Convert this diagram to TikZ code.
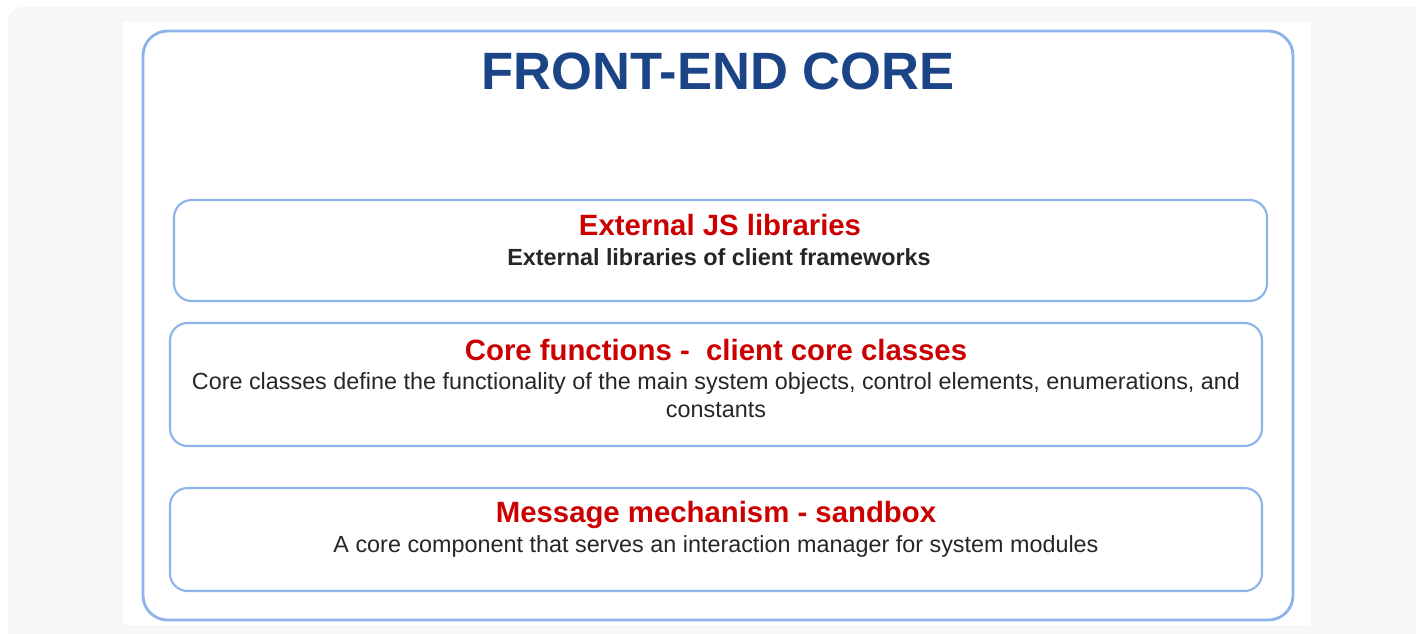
\documentclass[tikz,border=0pt]{standalone}
\usepackage{fontspec}
\setmainfont{Liberation Sans}
\definecolor{frameblue}{RGB}{140,180,235}
\definecolor{titleblue}{RGB}{28,69,135}
\definecolor{headred}{RGB}{204,0,0}
\definecolor{pagegray}{RGB}{247,247,247}
\begin{document}
\begin{tikzpicture}[x=0.02cm,y=-0.02cm,
  layerbox/.style={draw=frameblue,line width=1.2pt,rounded corners=10pt,inner sep=0pt},
  head/.style={text=headred,font=\fontsize{16.7}{19}\selectfont\bfseries},
  body/.style={text=black!85,font=\fontsize{13.3}{15.9}\selectfont,align=center}]
\useasboundingbox (0,0) rectangle (1416,633);
\fill[pagegray,rounded corners=8pt] (8,7) rectangle (1440,660);
\fill[white] (123,22) rectangle (1311,625);

\node[draw=frameblue,line width=1.6pt,rounded corners=14pt,minimum width=1150*0.02cm,minimum height=589*0.02cm] (core) at (718,325.5) {};
\node[text=titleblue,font=\fontsize{29.9}{33}\selectfont\bfseries] (title) at (718,71) {FRONT-END CORE};

% layers
\node[layerbox,minimum width=1093*0.02cm,minimum height=101*0.02cm] (ext) at (720.5,250.5) {};
\node[layerbox,minimum width=1092*0.02cm,minimum height=123*0.02cm] (fun) at (716,384.5) {};
\node[layerbox,minimum width=1092*0.02cm,minimum height=103*0.02cm] (msg) at (716,539.5) {};

\node[head] (exthead) at (720,225) {External JS libraries};
\node[body,font=\fontsize{13.3}{15.9}\selectfont\bfseries] (exttext) at (719,257) {External libraries of client frameworks};

\node[head] (funhead) at (716,350) {Core functions -\ \ client core classes};
\node[body] (funtext) at (716,395) {Core classes define the functionality of the main system objects, control elements, enumerations, and\\constants};

\node[head] (msghead) at (716,515) {Message mechanism - sandbox};
\node[body] (msgtext) at (716,546) {A core component that serves an interaction manager for system modules};
\end{tikzpicture}
\end{document}
